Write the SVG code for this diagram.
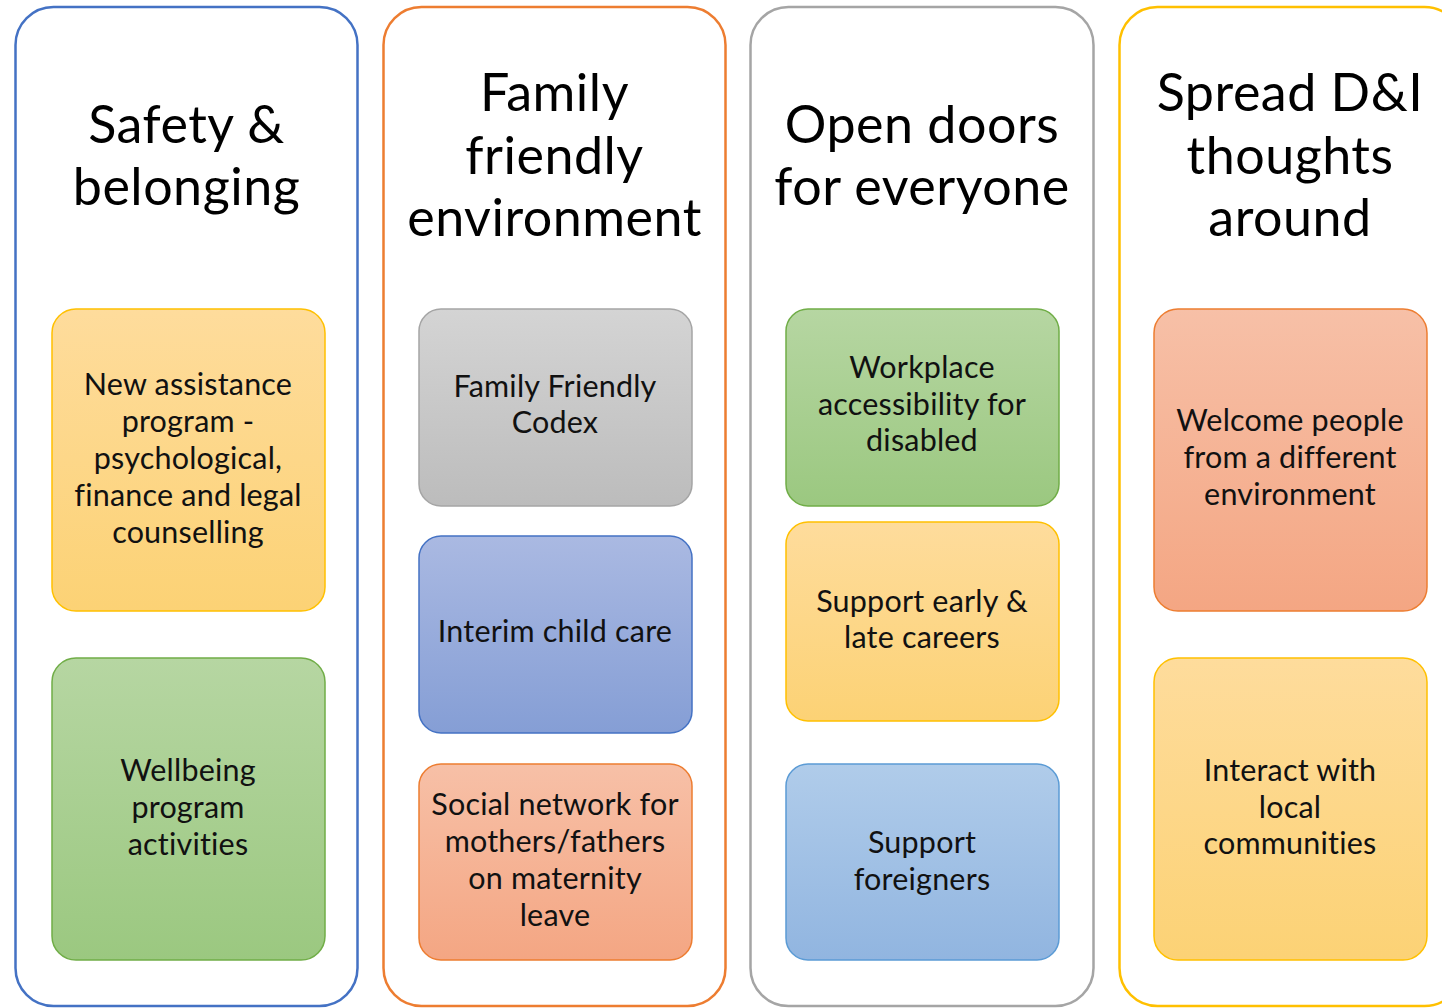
<svg xmlns="http://www.w3.org/2000/svg" width="1442" height="1008" viewBox="0 0 1442 1008">
  <style>
    .col { fill: #FFFFFF; stroke-width: 2.5; }
    .card { stroke-width: 1.5; }
    .title { font-family: Lato, "Open Sans", "Liberation Sans", sans-serif; font-size: 52px; letter-spacing: 0.5px; fill: #000; text-anchor: middle; }
    .label { font-family: Lato, "Open Sans", "Liberation Sans", sans-serif; font-size: 30.5px; letter-spacing: 0.2px; fill: #111; text-anchor: middle; }
  </style>
  <defs>
    <linearGradient id="gYellow" x1="0" y1="0" x2="0" y2="1">
      <stop offset="0" stop-color="#FEDC9C"/>
      <stop offset="1" stop-color="#FCD275"/>
    </linearGradient>
    <linearGradient id="gGreen" x1="0" y1="0" x2="0" y2="1">
      <stop offset="0" stop-color="#B6D6A2"/>
      <stop offset="1" stop-color="#9BC880"/>
    </linearGradient>
    <linearGradient id="gGray" x1="0" y1="0" x2="0" y2="1">
      <stop offset="0" stop-color="#D4D4D4"/>
      <stop offset="1" stop-color="#BCBCBC"/>
    </linearGradient>
    <linearGradient id="gBlue" x1="0" y1="0" x2="0" y2="1">
      <stop offset="0" stop-color="#AAB9E2"/>
      <stop offset="1" stop-color="#859ED5"/>
    </linearGradient>
    <linearGradient id="gSalmon" x1="0" y1="0" x2="0" y2="1">
      <stop offset="0" stop-color="#F7C0A7"/>
      <stop offset="1" stop-color="#F4A683"/>
    </linearGradient>
    <linearGradient id="gSky" x1="0" y1="0" x2="0" y2="1">
      <stop offset="0" stop-color="#B0CCEA"/>
      <stop offset="1" stop-color="#91B5E0"/>
    </linearGradient>
  </defs>

  <!-- Column 1: Safety & belonging -->
  <g id="col-safety">
    <rect class="col" x="15.5" y="7" width="342" height="999" rx="38" stroke="#4472C4"/>
    <text class="title"><tspan x="186.5" y="143">Safety &amp;</tspan><tspan x="186.5" y="205">belonging</tspan></text>
  </g>
  <g id="node-assistance">
    <rect class="card" x="52" y="309" width="273" height="302" rx="24" fill="url(#gYellow)" stroke="#FFC000"/>
    <text class="label"><tspan x="188" y="395">New assistance</tspan><tspan x="188" y="432">program -</tspan><tspan x="188" y="469">psychological,</tspan><tspan x="188" y="506">finance and legal</tspan><tspan x="188" y="543">counselling</tspan></text>
  </g>
  <g id="node-wellbeing">
    <rect class="card" x="52" y="658" width="273" height="302" rx="24" fill="url(#gGreen)" stroke="#70AD47"/>
    <text class="label"><tspan x="188" y="781">Wellbeing</tspan><tspan x="188" y="818">program</tspan><tspan x="188" y="855">activities</tspan></text>
  </g>

  <!-- Column 2: Family friendly environment -->
  <g id="col-family">
    <rect class="col" x="383.5" y="7" width="342" height="999" rx="38" stroke="#ED7D31"/>
    <text class="title"><tspan x="554.5" y="111">Family</tspan><tspan x="554.5" y="174">friendly</tspan><tspan x="554.5" y="236">environment</tspan></text>
  </g>
  <g id="node-codex">
    <rect class="card" x="419" y="309" width="273" height="197" rx="22" fill="url(#gGray)" stroke="#A5A5A5"/>
    <text class="label"><tspan x="555" y="397">Family Friendly</tspan><tspan x="555" y="433">Codex</tspan></text>
  </g>
  <g id="node-childcare">
    <rect class="card" x="419" y="536" width="273" height="197" rx="22" fill="url(#gBlue)" stroke="#4472C4"/>
    <text class="label"><tspan x="555" y="642">Interim child care</tspan></text>
  </g>
  <g id="node-social">
    <rect class="card" x="419" y="764" width="273" height="196" rx="22" fill="url(#gSalmon)" stroke="#ED7D31"/>
    <text class="label"><tspan x="555" y="815">Social network for</tspan><tspan x="555" y="852">mothers/fathers</tspan><tspan x="555" y="889">on maternity</tspan><tspan x="555" y="926">leave</tspan></text>
  </g>

  <!-- Column 3: Open doors for everyone -->
  <g id="col-open">
    <rect class="col" x="750.5" y="7" width="343" height="999" rx="38" stroke="#A5A5A5"/>
    <text class="title"><tspan x="922" y="143">Open doors</tspan><tspan x="922" y="205">for everyone</tspan></text>
  </g>
  <g id="node-accessibility">
    <rect class="card" x="786" y="309" width="273" height="197" rx="22" fill="url(#gGreen)" stroke="#70AD47"/>
    <text class="label"><tspan x="922" y="378">Workplace</tspan><tspan x="922" y="415">accessibility for</tspan><tspan x="922" y="451">disabled</tspan></text>
  </g>
  <g id="node-careers">
    <rect class="card" x="786" y="522" width="273" height="199" rx="22" fill="url(#gYellow)" stroke="#FFC000"/>
    <text class="label"><tspan x="922" y="612">Support early &amp;</tspan><tspan x="922" y="648">late careers</tspan></text>
  </g>
  <g id="node-foreigners">
    <rect class="card" x="786" y="764" width="273" height="196" rx="22" fill="url(#gSky)" stroke="#5B9BD5"/>
    <text class="label"><tspan x="922" y="853">Support</tspan><tspan x="922" y="890">foreigners</tspan></text>
  </g>

  <!-- Column 4: Spread D&I thoughts around -->
  <g id="col-spread">
    <rect class="col" x="1119.5" y="7" width="343" height="999" rx="38" stroke="#FFC000"/>
    <text class="title"><tspan x="1290" y="111">Spread D&amp;I</tspan><tspan x="1290" y="174">thoughts</tspan><tspan x="1290" y="236">around</tspan></text>
  </g>
  <g id="node-welcome">
    <rect class="card" x="1154" y="309" width="273" height="302" rx="24" fill="url(#gSalmon)" stroke="#ED7D31"/>
    <text class="label"><tspan x="1290" y="431">Welcome people</tspan><tspan x="1290" y="468">from a different</tspan><tspan x="1290" y="505">environment</tspan></text>
  </g>
  <g id="node-communities">
    <rect class="card" x="1154" y="658" width="273" height="302" rx="24" fill="url(#gYellow)" stroke="#FFC000"/>
    <text class="label"><tspan x="1290" y="781">Interact with</tspan><tspan x="1290" y="818">local</tspan><tspan x="1290" y="854">communities</tspan></text>
  </g>

  <!-- no connectors in this chart -->
  <g id="connectors"/>
</svg>
